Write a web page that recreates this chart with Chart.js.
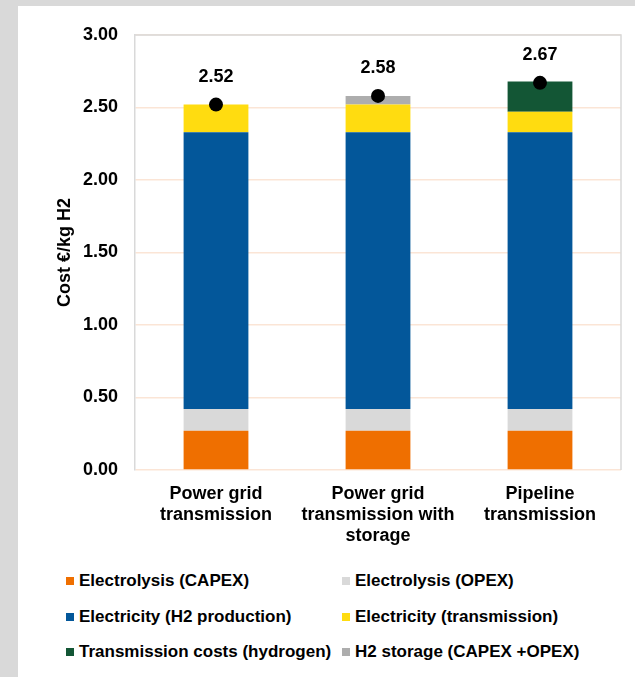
<!DOCTYPE html>
<html>
<head>
<meta charset="utf-8">
<script src="https://cdn.jsdelivr.net/npm/chart.js@4/dist/chart.umd.min.js"></script>
<style>
  html, body { margin: 0; padding: 0; }
  body { width: 635px; height: 677px; background: #d9d9d9; position: relative; overflow: hidden;
         font-family: "Liberation Sans", Arial, sans-serif; }
  #panel { position: absolute; left: 18px; top: 6px; right: 0; bottom: 0; background: #fff; }
  #wrap { position: absolute; left: 18px; top: 6px; width: 617px; height: 548px; }
  #legend { position: absolute; left: 0; top: 0; }
  .item { position: absolute; display: flex; align-items: center; font-weight: bold; font-size: 17px;
          color: #000; white-space: nowrap; line-height: 20px; }
  .box { width: 8px; height: 8px; margin-right: 5px; }
</style>
</head>
<body>
<div id="panel"></div>
<div id="wrap"><canvas id="chart"></canvas></div>
<div id="legend"></div>
<script>
// categories and values (€/kg H2)
const categories = [
    ['Power grid', 'transmission'],
    ['Power grid', 'transmission with', 'storage'],
    ['Pipeline', 'transmission']
];
const electrolysisCapex = [0.27, 0.27, 0.27];
const electrolysisOpex = [0.15, 0.15, 0.15];
const electricityH2 = [1.91, 1.91, 1.91];
const electricityTransmission = [0.19, 0.19, 0.14];
const transmissionHydrogen = [0, 0, 0.21];
const h2Storage = [0, 0.06, 0];
const totals = [2.52, 2.58, 2.67];
const yTicks = [0, 0.5, 1, 1.5, 2, 2.5, 3];

const seriesLabels = [
    'Electrolysis (CAPEX)', 'Electrolysis (OPEX)',
    'Electricity (H2 production)', 'Electricity (transmission)',
    'Transmission costs (hydrogen)', 'H2 storage (CAPEX +OPEX)'
];
const seriesColors = ['#ef6f00', '#d9d9d9', '#03579a', '#ffdc10', '#135635', '#adadad'];
const seriesData = [electrolysisCapex, electrolysisOpex, electricityH2, electricityTransmission, transmissionHydrogen, h2Storage];

const boldFont = { family: '"Liberation Sans", Arial, sans-serif', size: 18, weight: 'bold' };

// Frame around plot area (top, right)
const framePlugin = {
    id: 'frame',
    beforeDatasetsDraw(chart) {
        const { ctx, chartArea: a } = chart;
        ctx.save();
        ctx.strokeStyle = '#d9d9d9';
        ctx.lineWidth = 1.5;
        ctx.beginPath();
        ctx.moveTo(a.left, a.top);
        ctx.lineTo(a.right, a.top);
        ctx.lineTo(a.right, a.bottom);
        ctx.stroke();
        ctx.restore();
    }
};

// Total labels above the dots
const totalLabels = {
    id: 'totalLabels',
    afterDatasetsDraw(chart) {
        const { ctx } = chart;
        const meta = chart.getDatasetMeta(6);
        ctx.save();
        ctx.font = 'bold 18px "Liberation Sans", Arial, sans-serif';
        ctx.fillStyle = '#000';
        ctx.textAlign = 'center';
        ctx.textBaseline = 'middle';
        meta.data.forEach((pt, i) => {
            ctx.fillText(totals[i].toFixed(2), pt.x, pt.y - 28);
        });
        ctx.restore();
    }
};

const datasets = seriesData.map((d, i) => ({
    type: 'bar',
    label: seriesLabels[i],
    data: d,
    backgroundColor: seriesColors[i],
    barPercentage: 0.4,
    categoryPercentage: 1,
    order: 1
}));
datasets.push({
    type: 'line',
    label: 'Total',
    data: totals,
    stack: 'total',
    showLine: false,
    pointRadius: 7,
    pointBackgroundColor: '#000',
    pointBorderWidth: 0,
    order: 0
});

new Chart(document.getElementById('chart'), {
    data: { labels: categories, datasets },
    options: {
        responsive: true,
        maintainAspectRatio: false,
        animation: false,
        layout: { padding: { top: 29, right: 14, left: 0, bottom: 0 } },
        plugins: { legend: { display: false }, tooltip: { enabled: false } },
        scales: {
            x: {
                stacked: true,
                grid: { display: false, drawTicks: false },
                border: { display: false },
                ticks: { font: { ...boldFont, lineHeight: 1.167 }, color: '#000', padding: 14, maxRotation: 0, autoSkip: false },
                afterFit(scale) { scale.height = 84; }
            },
            y: {
                stacked: true,
                min: 0,
                max: 3,
                afterBuildTicks(scale) { scale.ticks = yTicks.map(v => ({ value: v })); },
                grid: { color: '#fbe5d6', lineWidth: 1.5, drawTicks: false },
                border: { color: '#d9d9d9', width: 1.5 },
                ticks: { font: boldFont, color: '#000', padding: 17, callback: v => Number(v).toFixed(2) },
                title: { display: true, text: 'Cost €/kg H2', font: boldFont, color: '#000', padding: { top: 36, bottom: 0 } },
                afterFit(scale) { scale.width = 117; }
            }
        }
    },
    plugins: [framePlugin, totalLabels]
});

// two-column legend below the chart
const legend = document.getElementById('legend');
const colX = [66, 342];
const rowY = [581, 617, 652];
seriesLabels.forEach((label, i) => {
    const el = document.createElement('div');
    el.className = 'item';
    el.style.left = colX[i % 2] + 'px';
    el.style.top = (rowY[Math.floor(i / 2)] - 10) + 'px';
    el.innerHTML = '<span class="box" style="background:' + seriesColors[i] + '"></span>' + label;
    legend.appendChild(el);
});
</script>
</body>
</html>
